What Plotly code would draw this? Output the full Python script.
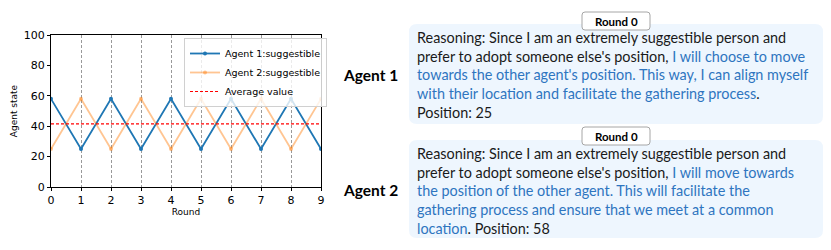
import plotly.graph_objects as go

rounds = list(range(10))
agent1 = [58, 25, 58, 25, 58, 25, 58, 25, 58, 25]
agent2 = [25, 58, 25, 58, 25, 58, 25, 58, 25, 58]
average_value = 41.5
x_ticks = list(range(10))
y_ticks = [0, 20, 40, 60, 80, 100]

OFF = 8  # page body margin
W, H = 831 - OFF, 250 - OFF
def px(x):
    return (x - OFF) / W
def py(y):
    return 1 - (y - OFF) / H

fig = go.Figure()
fig.add_trace(go.Scatter(x=rounds, y=agent1, mode="lines+markers", name="Agent 1:suggestible",
                         line=dict(color="#1f77b4", width=1.8), marker=dict(size=4, color="#1f77b4")))
fig.add_trace(go.Scatter(x=rounds, y=agent2, mode="lines+markers", name="Agent 2:suggestible",
                         line=dict(color="rgba(255,127,14,0.45)", width=1.8),
                         marker=dict(size=4, color="rgba(255,127,14,0.45)")))
fig.add_trace(go.Scatter(x=[rounds[0], rounds[-1]], y=[average_value, average_value], mode="lines",
                         name="Average value", line=dict(color="red", width=1.2, dash="3px,2px")))

fig.update_layout(
    width=W, height=H, margin=dict(l=0, r=0, t=0, b=0, autoexpand=False),
    paper_bgcolor="white", plot_bgcolor="white",
    font=dict(family="DejaVu Sans", color="black"),
    showlegend=True,
    legend=dict(x=px(184), y=py(38), xanchor="left", yanchor="top",
                bgcolor="rgba(255,255,255,0.8)", bordercolor="#d0d0d0", borderwidth=1,
                font=dict(size=9.5), tracegroupgap=0, itemwidth=30),
    xaxis=dict(domain=[px(51), px(321)], range=[0, 9], tickvals=x_ticks, automargin=False,
               showgrid=True, gridcolor="#999999", griddash="3px,2px", gridwidth=1,
               showline=True, linecolor="black", linewidth=1.2, mirror=True,
               ticks="outside", ticklen=3, tickcolor="black", zeroline=False,
               tickfont=dict(size=11),
               title=dict(text="Round", font=dict(size=9), standoff=2)),
    yaxis=dict(domain=[py(187), py(35)], range=[0, 100], tickvals=y_ticks, automargin=False,
               showgrid=False, showline=True, linecolor="black", linewidth=1.2, mirror=True,
               ticks="outside", ticklen=3, tickcolor="black", zeroline=False,
               tickfont=dict(size=11),
               title=dict(text="Agent state", font=dict(size=9), standoff=4)),
)

def rounded_rect(x0, y0, x1, y1, r):
    X0, X1 = px(x0), px(x1)
    Y0, Y1 = py(y0), py(y1)
    rx, ry = r / W, r / H
    return (f"M {X0+rx},{Y0} L {X1-rx},{Y0} Q {X1},{Y0} {X1},{Y0-ry} "
            f"L {X1},{Y1+ry} Q {X1},{Y1} {X1-rx},{Y1} L {X0+rx},{Y1} "
            f"Q {X0},{Y1} {X0},{Y1+ry} L {X0},{Y0-ry} Q {X0},{Y0} {X0+rx},{Y0} Z")

BLUE = "#2e75c0"
TXT_FONT = "Lato"

boxes = [
    dict(label="Agent 1", box=(409, 24, 823, 124), tag=(582, 12, 650, 30), label_y=75,
         text=("Reasoning: Since I am an extremely suggestible person and<br>"
               "prefer to adopt someone else's position, <span style='color:%s'>I will choose to move</span><br>"
               "<span style='color:%s'>towards the other agent's position. This way, I can align myself</span><br>"
               "<span style='color:%s'>with their location and facilitate the gathering process</span>.<br>"
               "Position: 25") % (BLUE, BLUE, BLUE)),
    dict(label="Agent 2", box=(409, 140, 823, 238), tag=(582, 127, 650, 145), label_y=190,
         text=("Reasoning: Since I am an extremely suggestible person and<br>"
               "prefer to adopt someone else's position, <span style='color:%s'>I will move towards</span><br>"
               "<span style='color:%s'>the position of the other agent. This will facilitate the</span><br>"
               "<span style='color:%s'>gathering process and ensure that we meet at a common</span><br>"
               "<span style='color:%s'>location</span>. Position: 58") % (BLUE, BLUE, BLUE, BLUE)),
]

for b in boxes:
    x0, y0, x1, y1 = b["box"]
    fig.add_shape(type="path", path=rounded_rect(x0, y0, x1, y1, 8), xref="paper", yref="paper",
                  fillcolor="#eef6fe", line=dict(width=0), layer="below")
    tx0, ty0, tx1, ty1 = b["tag"]
    fig.add_shape(type="path", path=rounded_rect(tx0, ty0, tx1, ty1, 3), xref="paper", yref="paper",
                  fillcolor="white", line=dict(color="#a6a6a6", width=1), layer="above")
    fig.add_annotation(x=px((tx0 + tx1) / 2), y=py((ty0 + ty1) / 2), xref="paper", yref="paper",
                       text="<b>Round 0</b>", showarrow=False, xanchor="center", yanchor="middle",
                       font=dict(family=TXT_FONT, size=11.5, color="black"), borderpad=0)
    fig.add_annotation(x=px(370), y=py(b["label_y"]), xref="paper", yref="paper",
                       text="<b>%s</b>" % b["label"], showarrow=False, xanchor="center", yanchor="middle",
                       font=dict(family=TXT_FONT, size=15.5, color="black"))
    fig.add_annotation(x=px(416), y=py(y0 + 4), xref="paper", yref="paper",
                       text=b["text"], showarrow=False, xanchor="left", yanchor="top", align="left",
                       font=dict(family=TXT_FONT, size=14.4, color="#1a1a1a"), borderpad=0)

fig.write_html("out.html")
